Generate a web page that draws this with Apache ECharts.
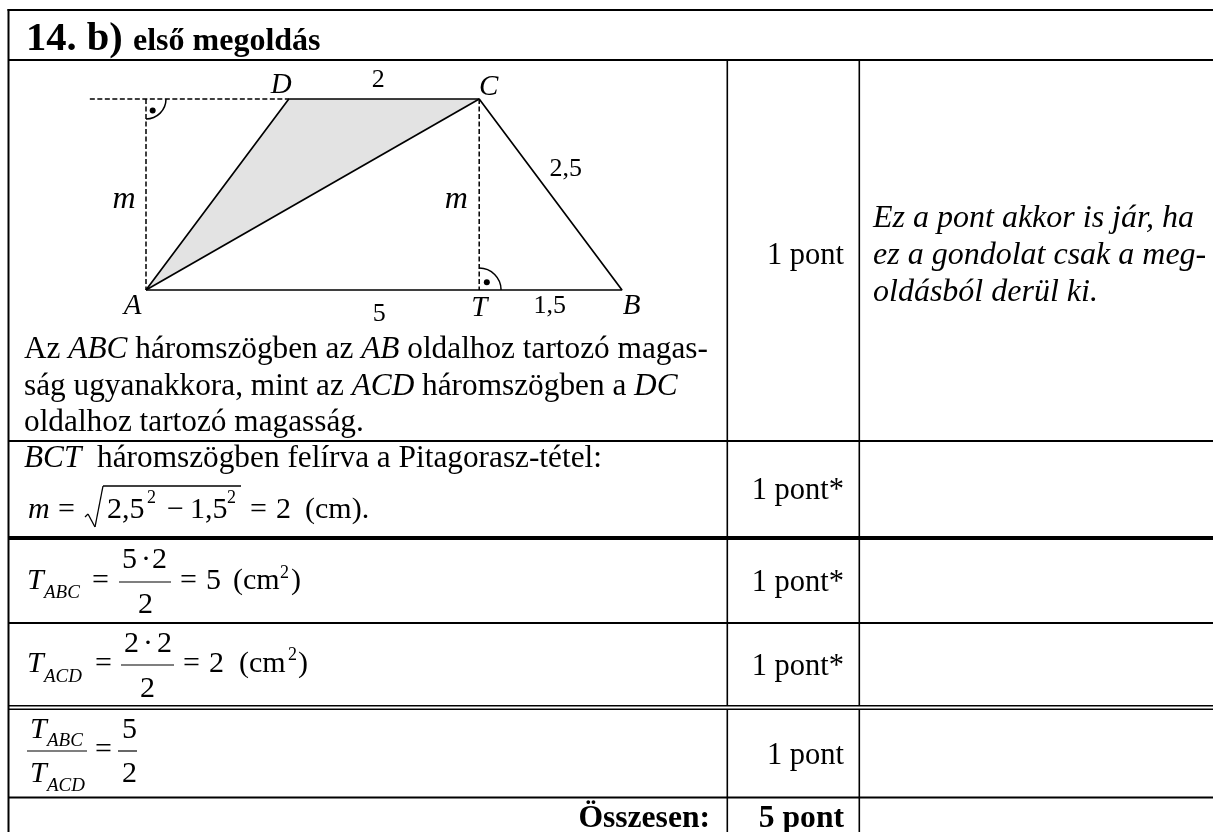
<!DOCTYPE html>
<html>
<head>
<meta charset="utf-8">
<style>
html, body { margin: 0; padding: 0; background: #fff; }
#chart { width: 1213px; height: 832px; }
</style>
<script src="https://cdn.jsdelivr.net/npm/echarts@6/dist/echarts.min.js"></script>
</head>
<body>
<div id="chart"></div>
<script>
// trapezoid vertices, in the drawing's own units (cm)
const vertexA = [0, 0];
const vertexB = [5, 0];
const vertexC = [3.5, 2];
const vertexD = [1.5, 2];
const vertexT = [3.5, 0];
const footM = [0, 2];
const leftEnd = [-0.59, 2];

const solidPaths = [
  [vertexA, vertexD, vertexC, vertexB, vertexA],
  [vertexA, vertexC]
];
const dashedPaths = [
  [leftEnd, footM, vertexD],
  [footM, vertexA],
  [vertexC, vertexT]
];
const shadedTriangle = [vertexA, vertexD, vertexC];

// right angle marks: centre x, centre y, radius, start and end angle (degrees)
const rightAngles = [
  [0, 2, 0.21, 270, 360],
  [3.5, 0, 0.23, 0, 90]
];
const rightAngleDots = [[0.07, 1.88], [3.58, 0.08]];

// labels of the drawing
const italicLabels = [
  ['D', 1.42, 2.14], ['C', 3.60, 2.12], ['A', -0.14, -0.17], ['T', 3.5, -0.19], ['B', 5.1, -0.17]
];
const mLabels = [['m', -0.23, 0.95], ['m', 3.26, 0.95]];
const lengthLabels = [['2', 2.44, 2.2], ['2,5', 4.41, 1.27], ['5', 2.45, -0.25], ['1,5', 4.24, -0.17]];

// text of the table
const bodyLines = [
  'Az {i|ABC} háromszögben az {i|AB} oldalhoz tartozó magas-',
  'ság ugyanakkora, mint az {i|ACD} háromszögben a {i|DC}',
  'oldalhoz tartozó magasság.',
  '{i|BCT}  háromszögben felírva a Pitagorasz-tétel:'
];
const noteLines = ['Ez a pont akkor is jár, ha', 'ez a gondolat csak a meg-', 'oldásból derül ki.'];
const pointLabels = ['1 pont', '1 pont*', '1 pont*', '1 pont*', '1 pont'];
const totalLabel = 'Összesen:';
const totalPoints = '5 pont';

const SERIF = '"Liberation Serif", "Times New Roman", serif';
const graphic = [];

function bar(x, y, w, h) {
  graphic.push({ type: 'rect', silent: true, shape: { x: x, y: y, width: w, height: h }, style: { fill: '#000' } });
}
function thin(x1, y1, x2, y2, lw) {
  graphic.push({ type: 'line', silent: true, shape: { x1: x1, y1: y1, x2: x2, y2: y2 }, style: { stroke: '#000', lineWidth: lw || 1.2 } });
}
// y is the baseline of the text
function txt(s, x, y, size, o) {
  o = o || {};
  graphic.push({
    type: 'text', silent: true, x: x, y: y - size * 0.28,
    style: {
      text: s, fontFamily: SERIF, fontSize: size, fontStyle: o.it ? 'italic' : 'normal',
      fontWeight: o.b ? 'bold' : 'normal', fill: '#000', align: o.right ? 'right' : 'left', verticalAlign: 'middle',
      rich: { i: { fontFamily: SERIF, fontSize: size, fontStyle: 'italic', fill: '#000' } }
    }
  });
}

// table rules
bar(7.5, 9, 1205.5, 2);
bar(7.5, 9, 2, 823);
bar(8, 59, 1205, 2);
bar(8, 440, 1205, 2);
bar(8, 536, 1205, 4);
bar(8, 622, 1205, 2);
bar(8, 705, 1205, 1.6);
bar(8, 708.4, 1205, 1.6);
bar(8, 796.6, 1205, 2);
[726.5, 858.5].forEach(function (x) {
  bar(x, 60, 1.6, 645);
  bar(x, 709, 1.6, 123);
});

// heading
txt('14. b)', 26, 50.5, 40.5, { b: true });
txt('első megoldás', 133, 50.5, 32, { b: true });

// left column text
txt(bodyLines[0], 24, 359, 31.3);
txt(bodyLines[1], 24, 396, 31.3);
txt(bodyLines[2], 24, 432, 31.3);
txt(bodyLines[3], 24, 468, 31.3);

// m = sqrt(...)
txt('m', 28, 519, 30, { it: true });
txt('=', 58, 519, 30);
[[85, 517, 88, 514], [88, 514, 95, 527], [95, 527, 103, 486], [103, 486, 241, 486]].forEach(function (s) {
  thin(s[0], s[1], s[2], s[3], 1.3);
});
txt('2,5', 107, 519, 30);
txt('2', 147, 503, 18);
txt('−', 167, 519, 30);
txt('1,5', 190, 519, 30);
txt('2', 227, 503, 18);
txt('=', 250, 519, 30);
txt('2', 276, 519, 30);
txt('(cm).', 305, 519, 30);

// T_ABC
txt('T', 27, 590, 30, { it: true });
txt('ABC', 44, 598, 19, { it: true });
txt('=', 92, 590, 30);
txt('5', 122, 569, 30);
txt('·', 141, 569, 30);
txt('2', 152, 569, 30);
thin(119, 582, 171, 582);
txt('2', 138, 614, 30);
txt('=', 180, 590, 30);
txt('5', 206, 590, 30);
txt('(cm', 233, 590, 30);
txt('2', 280, 578, 18);
txt(')', 291, 590, 30);

// T_ACD
txt('T', 27, 673, 30, { it: true });
txt('ACD', 44, 682, 19, { it: true });
txt('=', 95, 673, 30);
txt('2', 124, 653, 30);
txt('·', 143, 653, 30);
txt('2', 157, 653, 30);
thin(121, 665, 174, 665);
txt('2', 140, 698, 30);
txt('=', 183, 673, 30);
txt('2', 209, 673, 30);
txt('(cm', 239, 673, 30);
txt('2', 288, 660, 18);
txt(')', 298, 673, 30);

// ratio
txt('T', 30, 739, 30, { it: true });
txt('ABC', 47, 746, 19, { it: true });
thin(27, 751, 87, 751);
txt('T', 30, 783, 30, { it: true });
txt('ACD', 47, 791, 19, { it: true });
txt('=', 95, 759, 30);
txt('5', 122, 739, 30);
thin(118, 751, 137, 751);
txt('2', 122, 783, 30);

// points column
[265, 500, 592, 676, 765].forEach(function (y, i) {
  txt(pointLabels[i], 844, y, 30.5, { right: true });
});
txt(totalLabel, 710, 828, 31.6, { b: true, right: true });
txt(totalPoints, 844, 828, 31.6, { b: true, right: true });

// remarks column
noteLines.forEach(function (s, i) {
  txt(s, 873, 228 + i * 37, 32, { it: true });
});

// one line series for every path of the drawing
function pathSeries(path, dashed) {
  return {
    type: 'line', silent: true, symbol: 'none', z: 3, clip: false, data: path,
    lineStyle: { color: '#000', width: dashed ? 1.5 : 1.7, type: dashed ? [5, 2.5] : 'solid' }
  };
}
function labelSeries(rows, style) {
  return {
    type: 'scatter', silent: true, symbolSize: 1, z: 4, clip: false, itemStyle: { color: 'transparent', opacity: 1 },
    data: rows.map(function (r) { return { name: r[0], value: [r[1], r[2]] }; }),
    label: Object.assign({
      show: true, position: 'inside', formatter: '{b}', color: '#000', fontFamily: SERIF, fontSize: 26
    }, style)
  };
}

const series = [{
  type: 'custom', silent: true, z: 1, clip: false,
  data: shadedTriangle,
  renderItem: function (params, api) {
    if (params.dataIndex !== 0) return;
    return {
      type: 'polygon',
      shape: { points: shadedTriangle.map(function (p) { return api.coord(p); }) },
      style: { fill: '#e3e3e3' }
    };
  }
}, {
  type: 'custom', silent: true, z: 3, clip: false,
  data: rightAngles,
  encode: { x: 0, y: 1 },
  renderItem: function (params, api) {
    const c = api.coord([api.value(0), api.value(1)]);
    const r = api.size([api.value(2), 0])[0];
    return {
      type: 'arc',
      shape: {
        cx: c[0], cy: c[1], r: r,
        startAngle: -api.value(4) * Math.PI / 180,
        endAngle: -api.value(3) * Math.PI / 180,
        clockwise: true
      },
      style: { stroke: '#000', lineWidth: 1.5, fill: null }
    };
  }
}, {
  type: 'scatter', silent: true, symbol: 'circle', symbolSize: 6, z: 4, clip: false,
  data: rightAngleDots, itemStyle: { color: '#000', opacity: 1 }
},
labelSeries(italicLabels, { fontStyle: 'italic', fontSize: 29 }),
labelSeries(mLabels, { fontStyle: 'italic', fontSize: 32 }),
labelSeries(lengthLabels, {})
];
solidPaths.forEach(function (p) { series.push(pathSeries(p, false)); });
dashedPaths.forEach(function (p) { series.push(pathSeries(p, true)); });

const chart = echarts.init(document.getElementById('chart'), null, { renderer: 'canvas' });
chart.setOption({
  animation: false,
  backgroundColor: '#fff',
  tooltip: { show: false },
  grid: { left: 88.88, top: 51.25, width: 571.2, height: 286.5, containLabel: false },
  xAxis: { type: 'value', min: -0.6, max: 5.4, show: false },
  yAxis: { type: 'value', min: -0.5, max: 2.5, show: false },
  series: series,
  graphic: { elements: graphic }
});
</script>
</body>
</html>
